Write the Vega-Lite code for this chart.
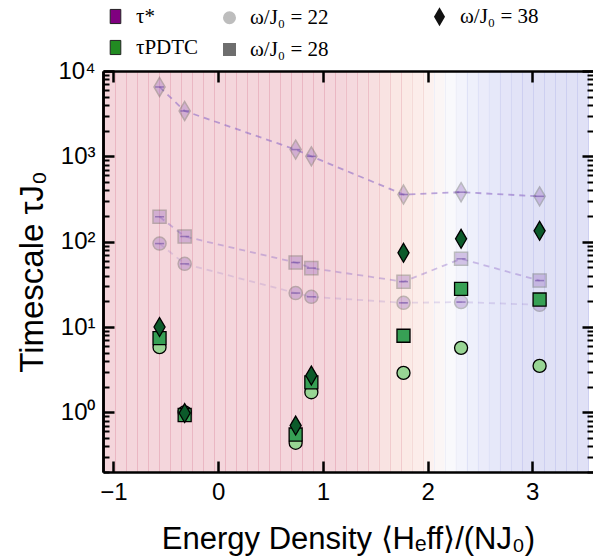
{
  "$schema": "https://vega.github.io/schema/vega-lite/v6.json",
  "width": 490,
  "height": 401,
  "autosize": {"type": "none"},
  "padding": {"left": 103, "top": 71, "right": 0, "bottom": 87},
  "background": "white",
  "config": {
    "font": "Liberation Sans",
    "view": {"stroke": null},
    "axis": {
      "grid": false, "labelColor": "black", "titleColor": "black",
      "labelFont": "Liberation Sans", "titleFont": "Liberation Sans", "titleFontWeight": "normal",
      "labelFontSize": 24, "labelPadding": 19
    }
  },
  "data": {
    "values": [
      {"series": "τ*", "omega": "22", "e": -0.56, "tau": 95},
      {"series": "τ*", "omega": "22", "e": -0.32, "tau": 55},
      {"series": "τ*", "omega": "22", "e": 0.74, "tau": 25},
      {"series": "τ*", "omega": "22", "e": 0.89, "tau": 22.6},
      {"series": "τ*", "omega": "22", "e": 1.77, "tau": 19.2},
      {"series": "τ*", "omega": "22", "e": 2.32, "tau": 19.6},
      {"series": "τ*", "omega": "22", "e": 3.07, "tau": 18.2},
      {"series": "τ*", "omega": "28", "e": -0.56, "tau": 196},
      {"series": "τ*", "omega": "28", "e": -0.32, "tau": 115},
      {"series": "τ*", "omega": "28", "e": 0.74, "tau": 57},
      {"series": "τ*", "omega": "28", "e": 0.89, "tau": 49},
      {"series": "τ*", "omega": "28", "e": 1.77, "tau": 34},
      {"series": "τ*", "omega": "28", "e": 2.32, "tau": 63},
      {"series": "τ*", "omega": "28", "e": 3.07, "tau": 35},
      {"series": "τ*", "omega": "38", "e": -0.56, "tau": 6500},
      {"series": "τ*", "omega": "38", "e": -0.32, "tau": 3400},
      {"series": "τ*", "omega": "38", "e": 0.74, "tau": 1200},
      {"series": "τ*", "omega": "38", "e": 0.89, "tau": 1000},
      {"series": "τ*", "omega": "38", "e": 1.77, "tau": 357},
      {"series": "τ*", "omega": "38", "e": 2.32, "tau": 380},
      {"series": "τ*", "omega": "38", "e": 3.07, "tau": 340},
      {"series": "τPDTC", "omega": "22", "e": -0.56, "tau": 5.8},
      {"series": "τPDTC", "omega": "22", "e": -0.32, "tau": 1.0},
      {"series": "τPDTC", "omega": "22", "e": 0.74, "tau": 0.44},
      {"series": "τPDTC", "omega": "22", "e": 0.89, "tau": 1.72},
      {"series": "τPDTC", "omega": "22", "e": 1.77, "tau": 2.9},
      {"series": "τPDTC", "omega": "22", "e": 2.32, "tau": 5.7},
      {"series": "τPDTC", "omega": "22", "e": 3.07, "tau": 3.5},
      {"series": "τPDTC", "omega": "28", "e": -0.56, "tau": 7.4},
      {"series": "τPDTC", "omega": "28", "e": -0.32, "tau": 0.93},
      {"series": "τPDTC", "omega": "28", "e": 0.74, "tau": 0.55},
      {"series": "τPDTC", "omega": "28", "e": 0.89, "tau": 2.25},
      {"series": "τPDTC", "omega": "28", "e": 1.77, "tau": 7.9},
      {"series": "τPDTC", "omega": "28", "e": 2.32, "tau": 28},
      {"series": "τPDTC", "omega": "28", "e": 3.07, "tau": 21},
      {"series": "τPDTC", "omega": "38", "e": -0.56, "tau": 10},
      {"series": "τPDTC", "omega": "38", "e": -0.32, "tau": 0.98},
      {"series": "τPDTC", "omega": "38", "e": 0.74, "tau": 0.7},
      {"series": "τPDTC", "omega": "38", "e": 0.89, "tau": 2.7},
      {"series": "τPDTC", "omega": "38", "e": 1.77, "tau": 74},
      {"series": "τPDTC", "omega": "38", "e": 2.32, "tau": 108},
      {"series": "τPDTC", "omega": "38", "e": 3.07, "tau": 134}
    ]
  },
  "layer": [
    {
      "transform": [{"filter": "datum.series === 'τ*'"}],
      "mark": {"type": "line", "strokeDash": [6, 5], "strokeWidth": 1.8, "color": "#8f6cc6"},
      "encoding": {
        "x": {"field": "e", "type": "quantitative",
          "scale": {"domain": [-1.1, 3.58], "nice": false, "zero": false},
          "axis": {"orient": "bottom", "zindex": 0, "grid": true, "gridWidth": 12, "gridOpacity": 1,
            "values": [-1.0375, -0.9325, -0.8275, -0.7225, -0.6175, -0.5125, -0.4075, -0.3025, -0.1975, -0.0925, 0.0125, 0.1175, 0.2225, 0.3275, 0.4325, 0.5375, 0.6425, 0.7475, 0.8525, 0.9575, 1.0625, 1.1675, 1.2725, 1.3775, 1.4825, 1.5875, 1.6925, 1.7975, 1.9025, 2.0075, 2.1125, 2.2175, 2.3225, 2.4275, 2.5325, 2.6375, 2.7425, 2.8475, 2.9525, 3.0575, 3.1625, 3.2675, 3.3725, 3.4775, 3.5825],
            "gridColor": {"condition": [
              {"test": "datum.value < 1.2", "value": "#f4d6dc"},
              {"test": "datum.value < 1.35", "value": "#f5d9de"},
              {"test": "datum.value < 1.45", "value": "#f6dcdf"},
              {"test": "datum.value < 1.55", "value": "#f7dfe0"},
              {"test": "datum.value < 1.66", "value": "#f9e3e2"},
              {"test": "datum.value < 1.76", "value": "#fae7e4"},
              {"test": "datum.value < 1.87", "value": "#fbeae6"},
              {"test": "datum.value < 1.97", "value": "#fcedea"},
              {"test": "datum.value < 2.08", "value": "#fcf1ef"},
              {"test": "datum.value < 2.18", "value": "#fbf6f6"},
              {"test": "datum.value < 2.29", "value": "#f9f9fc"},
              {"test": "datum.value < 2.39", "value": "#f3f4fc"},
              {"test": "datum.value < 2.5", "value": "#eef0fb"},
              {"test": "datum.value < 2.6", "value": "#eaebfa"},
              {"test": "datum.value < 2.71", "value": "#e6e8f9"},
              {"test": "datum.value < 2.81", "value": "#e4e5f8"},
              {"test": "datum.value < 2.92", "value": "#e2e3f7"}
            ], "value": "#e0e1f6"},
            "domain": false, "ticks": false, "labels": false, "title": null}},
        "y": {"field": "tau", "type": "quantitative",
          "scale": {"type": "log", "domain": [0.2, 10000], "nice": false},
          "axis": {"orient": "left", "zindex": 0, "values": [1, 10, 100, 1000, 10000],
            "domain": true, "domainColor": "black", "domainWidth": 2.5, "ticks": true, "tickColor": "black", "tickWidth": 2.5, "tickSize": -11,
            "labelExpr": "datum.value >= 9999 ? '10⁴' : datum.value >= 999 ? '10³' : datum.value >= 99 ? '10²' : datum.value >= 9 ? '10¹' : '10⁰'",
            "title": "Timescale τJ₀", "titleFontSize": 33, "titlePadding": 8}},
        "detail": {"field": "omega"},
        "strokeOpacity": {"field": "omega", "type": "ordinal", "legend": null,
          "scale": {"type": "point", "padding": 0, "domain": ["22", "28", "38"], "range": [0.22, 0.6]}}
      }
    },
    {
      "transform": [{"filter": "datum.series === 'τ*'"}],
      "mark": {"type": "point", "filled": true, "size": 170, "fill": "#9467bd", "stroke": "#4d4d4d", "strokeWidth": 1.5, "opacity": 0.35},
      "encoding": {
        "x": {"field": "e", "type": "quantitative",
          "axis": {"orient": "bottom", "zindex": 0, "grid": true, "gridWidth": 1, "gridOpacity": 1,
            "values": [-1.09, -0.985, -0.88, -0.775, -0.67, -0.565, -0.46, -0.355, -0.25, -0.145, -0.04, 0.065, 0.17, 0.275, 0.38, 0.485, 0.59, 0.695, 0.8, 0.905, 1.01, 1.115, 1.22, 1.325, 1.43, 1.535, 1.64, 1.745, 1.85, 1.955, 2.06, 2.165, 2.27, 2.375, 2.48, 2.585, 2.69, 2.795, 2.9, 3.005, 3.11, 3.215, 3.32, 3.425, 3.53],
            "gridColor": {"condition": [
              {"test": "datum.value < 1.2", "value": "#eab7c3"},
              {"test": "datum.value < 1.5", "value": "#edbfc8"},
              {"test": "datum.value < 1.8", "value": "#f1cbcd"},
              {"test": "datum.value < 2.05", "value": "#f5dbd8"},
              {"test": "datum.value < 2.3", "value": "#eeeff8"},
              {"test": "datum.value < 2.6", "value": "#dfe2f7"},
              {"test": "datum.value < 2.9", "value": "#d5d7f3"}
            ], "value": "#cdcff1"},
            "domain": false, "ticks": false, "labels": false, "title": null}},
        "y": {"field": "tau", "type": "quantitative",
          "axis": {"orient": "right", "zindex": 0, "values": [1, 10, 100, 1000, 10000], "labels": false, "title": null,
            "domain": false, "ticks": true, "tickColor": "black", "tickWidth": 2.5, "tickSize": -11}},
        "shape": {"field": "omega", "type": "nominal", "legend": null,
          "scale": {"domain": ["22", "28", "38"], "range": ["circle", "square", "M0,-1.45L0.85,0L0,1.45L-0.85,0Z"]}}
      }
    },
    {
      "transform": [{"filter": "datum.series === 'τ*'"}],
      "mark": {"type": "tick", "orient": "horizontal", "size": 9, "thickness": 1.5, "color": "#5e3a9a", "opacity": 0.5},
      "encoding": {
        "x": {"field": "e", "type": "quantitative",
          "axis": {"orient": "bottom", "zindex": 0, "values": [-1, 0, 1, 2, 3], "format": "d",
            "domain": true, "domainColor": "black", "domainWidth": 2.5, "ticks": true, "tickColor": "black", "tickWidth": 2.5, "tickSize": -11,
            "title": "Energy Density ⟨Hₑff⟩/(NJ₀)", "titleFontSize": 31, "titlePadding": 20}},
        "y": {"field": "tau", "type": "quantitative",
          "axis": {"orient": "right", "zindex": 0, "values": [0.2, 0.3, 0.4, 0.5, 0.6, 0.7, 0.8, 0.9, 2, 3, 4, 5, 6, 7, 8, 9, 20, 30, 40, 50, 60, 70, 80, 90, 200, 300, 400, 500, 600, 700, 800, 900, 2000, 3000, 4000, 5000, 6000, 7000, 8000, 9000],
            "labels": false, "title": null, "domain": false, "ticks": true, "tickColor": "black", "tickSize": -6, "tickWidth": 2}}
      }
    },
    {
      "transform": [{"filter": "datum.series === 'τPDTC'"}],
      "mark": {"type": "point", "filled": true, "size": 170, "stroke": "black", "strokeWidth": 1.3, "opacity": 1},
      "encoding": {
        "x": {"field": "e", "type": "quantitative",
          "axis": {"orient": "top", "zindex": 0, "values": [-1, 0, 1, 2, 3], "labels": false, "title": null,
            "domain": true, "domainColor": "black", "domainWidth": 2.5, "ticks": true, "tickColor": "black", "tickWidth": 2.5, "tickSize": -11}},
        "y": {"field": "tau", "type": "quantitative",
          "axis": {"orient": "left", "zindex": 0, "values": [0.2, 0.3, 0.4, 0.5, 0.6, 0.7, 0.8, 0.9, 2, 3, 4, 5, 6, 7, 8, 9, 20, 30, 40, 50, 60, 70, 80, 90, 200, 300, 400, 500, 600, 700, 800, 900, 2000, 3000, 4000, 5000, 6000, 7000, 8000, 9000],
            "labels": false, "title": null, "domain": true, "domainColor": "black", "domainWidth": 2.5, "ticks": true, "tickColor": "black", "tickSize": -6, "tickWidth": 2}},
        "shape": {"field": "omega", "type": "nominal", "legend": null,
          "scale": {"domain": ["22", "28", "38"], "range": ["circle", "square", "M0,-1.45L0.85,0L0,1.45L-0.85,0Z"]}},
        "fill": {"field": "omega", "type": "nominal", "legend": null,
          "scale": {"domain": ["22", "28", "38"], "range": ["#98d594", "#37a055", "#0b5a2a"]}}
      }
    },
    {
      "mark": {"type": "point", "filled": true, "opacity": 0},
      "encoding": {
        "x": {"field": "e", "type": "quantitative", "axis": null},
        "y": {"field": "tau", "type": "quantitative", "axis": null},
        "fill": {"field": "series", "type": "nominal",
          "scale": {"domain": ["τ*", "τPDTC"], "range": ["#800080", "#228b22"]},
          "legend": {"title": null, "orient": "none", "legendX": 2, "legendY": -65,
            "symbolType": "M-0.75,-1L0.75,-1L0.75,1L-0.75,1Z", "symbolSize": 200, "symbolOpacity": 1,
            "symbolStrokeColor": "#222222", "symbolStrokeWidth": 1,
            "labelFont": "Liberation Serif", "labelFontSize": 21, "labelOffset": 10, "rowPadding": 9}}
      }
    },
    {
      "mark": {"type": "point", "filled": true, "opacity": 0},
      "encoding": {
        "x": {"field": "e", "type": "quantitative", "axis": null},
        "y": {"field": "tau", "type": "quantitative", "axis": null},
        "shape": {"field": "omega", "type": "nominal",
          "scale": {"domain": ["22", "28", "38"], "range": ["circle", "square", "M0,-1.45L0.85,0L0,1.45L-0.85,0Z"]},
          "legend": {"title": null, "orient": "none", "legendX": 116, "legendY": -65, "columns": 2, "values": ["22", "28", "38"],
            "symbolSize": 170, "symbolOpacity": 1, "symbolStrokeColor": "black", "symbolStrokeWidth": 1.3,
            "labelFont": "Liberation Serif", "labelFontSize": 21, "labelOffset": 10,
            "columnPadding": 100, "rowPadding": 9, "labelExpr": "'ω/J₀ = ' + datum.label"}},
        "fill": {"field": "omega", "type": "nominal",
          "scale": {"domain": ["22", "28", "38"], "range": ["#bdbdbd", "#6e6e6e", "#111111"]},
          "legend": {"title": null, "orient": "none", "legendX": 116, "legendY": -65, "columns": 2, "values": ["22", "28", "38"],
            "symbolSize": 170, "symbolOpacity": 1, "symbolStrokeColor": "black", "symbolStrokeWidth": 1.3,
            "labelFont": "Liberation Serif", "labelFontSize": 21, "labelOffset": 10,
            "columnPadding": 100, "rowPadding": 9, "labelExpr": "'ω/J₀ = ' + datum.label"}}
      }
    }
  ],
  "resolve": {
    "scale": {"fill": "independent", "shape": "independent"},
    "axis": {"x": "independent", "y": "independent"}
  }
}
